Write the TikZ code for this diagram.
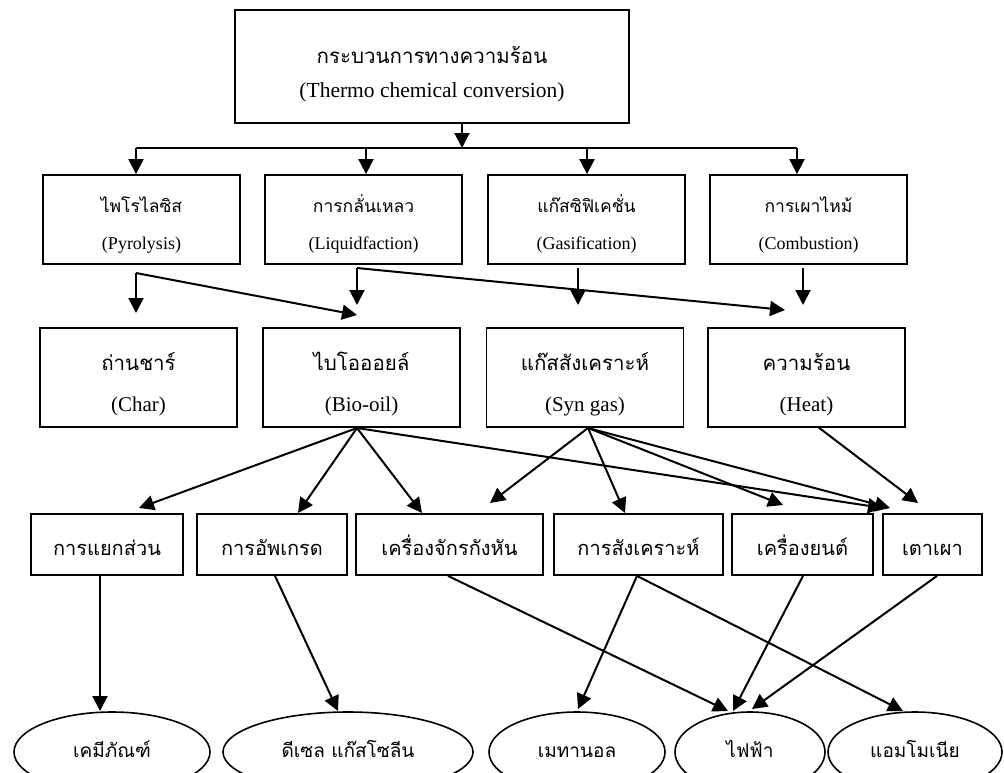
\documentclass[tikz,border=0pt]{standalone}
\usepackage{fontspec}
\setmainfont{Liberation Serif}
\newfontfamily\thaifont[Script=Thai]{Loma}
\usetikzlibrary{arrows.meta,shapes.geometric}

\begin{document}
\begin{tikzpicture}[x=1pt,y=-1pt,
  box/.style={draw, line width=1.8pt, inner sep=0pt},
  oval/.style={draw, ellipse, line width=1.6pt, inner sep=0pt, minimum height=80pt},
  link/.style={line width=2pt, -{Triangle[length=15pt,width=15pt]}},
  bus/.style={line width=2pt},
  txt/.style={anchor=base, inner sep=0pt},
  thTop/.style={txt, font=\thaifont\fontsize{20.5}{24}\selectfont},
  thTwo/.style={txt, font=\thaifont\fontsize{17.5}{20}\selectfont},
  thThree/.style={txt, font=\thaifont\fontsize{20.5}{24}\selectfont},
  thFour/.style={txt, font=\thaifont\fontsize{20}{24}\selectfont},
  thOval/.style={txt, font=\thaifont\fontsize{19}{24}\selectfont},
  enTop/.style={txt, font=\fontsize{21.5}{24}\selectfont},
  enTwo/.style={txt, font=\fontsize{18}{22}\selectfont},
  enThree/.style={txt, font=\fontsize{21}{24}\selectfont},
]
\useasboundingbox (0,0) rectangle (1004,772);
\clip (0,0) rectangle (1004,772);
\fill[white] (0,0) rectangle (1004,772);

% ---------- top box ----------
\node[box, minimum width=394pt, minimum height=113pt] (top) at (432,66.5) {};
\node[thTop] (topTh) at (432,63) {กระบวนการทางความร้อน};
\node[enTop] (topEn) at (432,97) {(Thermo chemical conversion)};

% ---------- processes ----------
\foreach \nm/\cx/\th/\en in {pyro/141.5/ไพโรไลซิส/(Pyrolysis),
                             liq/363.5/การกลั่นเหลว/(Liquidfaction),
                             gas/586.5/แก๊สซิฟิเคชั่น/(Gasification),
                             comb/808.5/การเผาไหม้/(Combustion)}{
  \node[box, minimum width=197pt, minimum height=89pt] (\nm) at (\cx,219.5) {};
  \node[thTwo] (\nm Th) at (\cx,212) {\th};
  \node[enTwo] (\nm En) at (\cx,249) {\en};
}

% ---------- products ----------
\foreach \nm/\cx/\th/\en in {char/138.5/ถ่านชาร์/(Char),
                             bio/361.5/ไบโอออยล์/(Bio-oil),
                             syn/585/แก๊สสังเคราะห์/(Syn gas),
                             heat/806.5/ความร้อน/(Heat)}{
  \node[box, minimum width=197pt, minimum height=99pt] (\nm) at (\cx,377.5) {};
  \node[thThree] (\nm Th) at (\cx,370) {\th};
  \node[enThree] (\nm En) at (\cx,411) {\en};
}

% ---------- conversion steps ----------
\foreach \nm/\cx/\w/\th in {sep/107/152/การแยกส่วน,
                            upg/272/150/การอัพเกรด,
                            tur/449.5/187/เครื่องจักรกังหัน,
                            synt/638.5/169/การสังเคราะห์,
                            eng/802.5/141/เครื่องยนต์,
                            kiln/932.5/99/เตาเผา}{
  \node[box, minimum width=\w pt, minimum height=61pt] (\nm) at (\cx,544.5) {};
  \node[thFour] (\nm Th) at (\cx,555) {\th};
}

% ---------- end uses ----------
\foreach \nm/\cx/\w/\th in {chem/112/196/เคมีภัณฑ์,
                            fuel/348/250/ดีเซล แก๊สโซลีน,
                            meth/577/176/เมทานอล,
                            elec/750/150/ไฟฟ้า,
                            ammo/915/174/แอมโมเนีย}{
  \node[oval, minimum width=\w pt] (\nm) at (\cx,752) {};
  \node[thOval] (\nm Th) at (\cx,757) {\th};
}

% ---------- distribution bus ----------
\coordinate (busIn) at (462,148);
\coordinate (bPyro) at (136,148);
\coordinate (bLiq)  at (366,148);
\coordinate (bGas)  at (587,148);
\coordinate (bComb) at (797,148);
\draw[link] (top.south -| busIn) -- (busIn);
\draw[bus] (bPyro) -- (bComb);
\draw[link] (bPyro) -- (bPyro |- pyro.north);
\draw[link] (bLiq)  -- (bLiq |- liq.north);
\draw[link] (bGas)  -- (bGas |- gas.north);
\draw[link] (bComb) -- (bComb |- comb.north);

% ---------- processes to products ----------
\coordinate (pyroOut) at (136,273);
\coordinate (liqOut)  at (357,268);
\coordinate (gasOut)  at (578,268);
\coordinate (combOut) at (803,268);
\coordinate (charIn)  at (136,313);
\coordinate (bioInA)  at (357,315);
\coordinate (bioInB)  at (357,305);
\coordinate (synIn)   at (578,305);
\coordinate (heatInA) at (785,310);
\coordinate (heatInB) at (803,305);
\draw[link] (pyroOut) -- (charIn);
\draw[link] (pyroOut) -- (bioInA);
\draw[link] (liqOut)  -- (bioInB);
\draw[link] (liqOut)  -- (heatInA);
\draw[link] (gasOut)  -- (synIn);
\draw[link] (combOut) -- (heatInB);

% ---------- products to conversion steps ----------
\coordinate (bioOut)  at (357,428);
\coordinate (synOut)  at (588,428);
\coordinate (heatOut) at (818,427);
\draw[link] (bioOut) -- (139,508);
\draw[link] (bioOut) -- (298,513);
\draw[link] (bioOut) -- (422,513);
\draw[link] (bioOut) -- (883,508);
\draw[link] (synOut) -- (490,503);
\draw[link] (synOut) -- (625,513);
\draw[link] (synOut) -- (783,505);
\draw[link] (synOut) -- (890,508);
\draw[link] (heatOut) -- (918,503);

% ---------- conversion steps to end uses ----------
\draw[link] (sep.south -| 100,0) -- (100,711);
\draw[link] (upg.south -| 275,0) -- (338,711);
\draw[link] (tur.south -| 448,0) -- (728,711);
\draw[link] (synt.south -| 637,0) -- (578,709);
\draw[link] (synt.south -| 637,0) -- (903,711);
\draw[link] (eng.south -| 803,0) -- (733,711);
\draw[link] (kiln.south -| 937,0) -- (752,709);
\end{tikzpicture}
\end{document}
